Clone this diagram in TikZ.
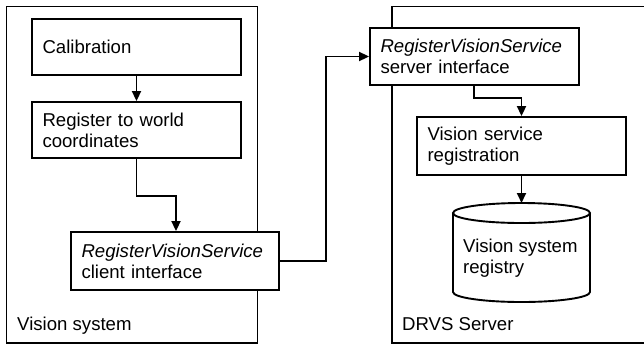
\documentclass[tikz,border=0pt]{standalone}
\usepackage{fontspec}
\setmainfont{Liberation Sans}
\usetikzlibrary{arrows.meta}
\begin{document}
\begin{tikzpicture}[x=1pt,y=-1pt,
  every node/.style={font=\fontsize{18.6}{21}\selectfont},
  stepbox/.style={draw, fill=white, line width=1.9pt, align=left,
    inner xsep=10.5pt, inner ysep=0pt, anchor=center},
  frame/.style={line width=1.9pt},
  flow/.style={line width=1.9pt, -{Triangle[length=10pt,width=9pt]}},
  caption/.style={anchor=base west, inner sep=0pt}]
\useasboundingbox (0,0) rectangle (644,346);

% system frames
\draw[frame] (6.5,6.5) rectangle (257.5,343);
\draw[frame] (648,6.5) -- (392,6.5) -- (392,343) -- (648,343);
\node[caption] (vislabel) at (17,330) {Vision system};
\node[caption] (srvlabel) at (402,330) {DRVS Server};

% vision system side
\node[stepbox, text width=188pt, minimum height=56pt] (cal) at (136.5,47) {Calibration};
\node[stepbox, text width=188pt, minimum height=56pt] (reg) at (136.5,130)
  {Register to world\\coordinates};
\node[stepbox, text width=187pt, minimum height=58pt] (cli) at (175,261)
  {\textit{RegisterVisionService}\\client interface};

% server side
\node[stepbox, text width=188pt, minimum height=57pt] (srv) at (474.5,56.5)
  {\textit{RegisterVisionService}\\server interface};
\node[stepbox, text width=188pt, minimum height=58pt] (vsr) at (521.5,146)
  {Vision service\\registration};

% registry store
\draw[frame, fill=white] (453,213) -- (453,292)
  arc[start angle=180, end angle=360, x radius=68.5, y radius=-10]
  -- (590,213);
\draw[frame] (521.5,213) ellipse[x radius=68.5, y radius=10];
\coordinate (dbtop) at (521.5,203);
\node[anchor=west, align=left, inner sep=0pt] (db) at (463,258)
  {Vision system\\registry};

% connectors
\draw[flow] (cal.south) -- (reg.north);
\draw[flow] (reg.south) -- ++(0,37) -| ([xshift=1pt]cli.north);
\draw[flow] (cli.east) -- ++(46,0) |- (srv.west);
\draw[flow] ([xshift=-0.5pt]srv.south) -- ++(0,12) -| (vsr.north);
\draw[flow] (vsr.south) -- (dbtop);
\end{tikzpicture}
\end{document}
